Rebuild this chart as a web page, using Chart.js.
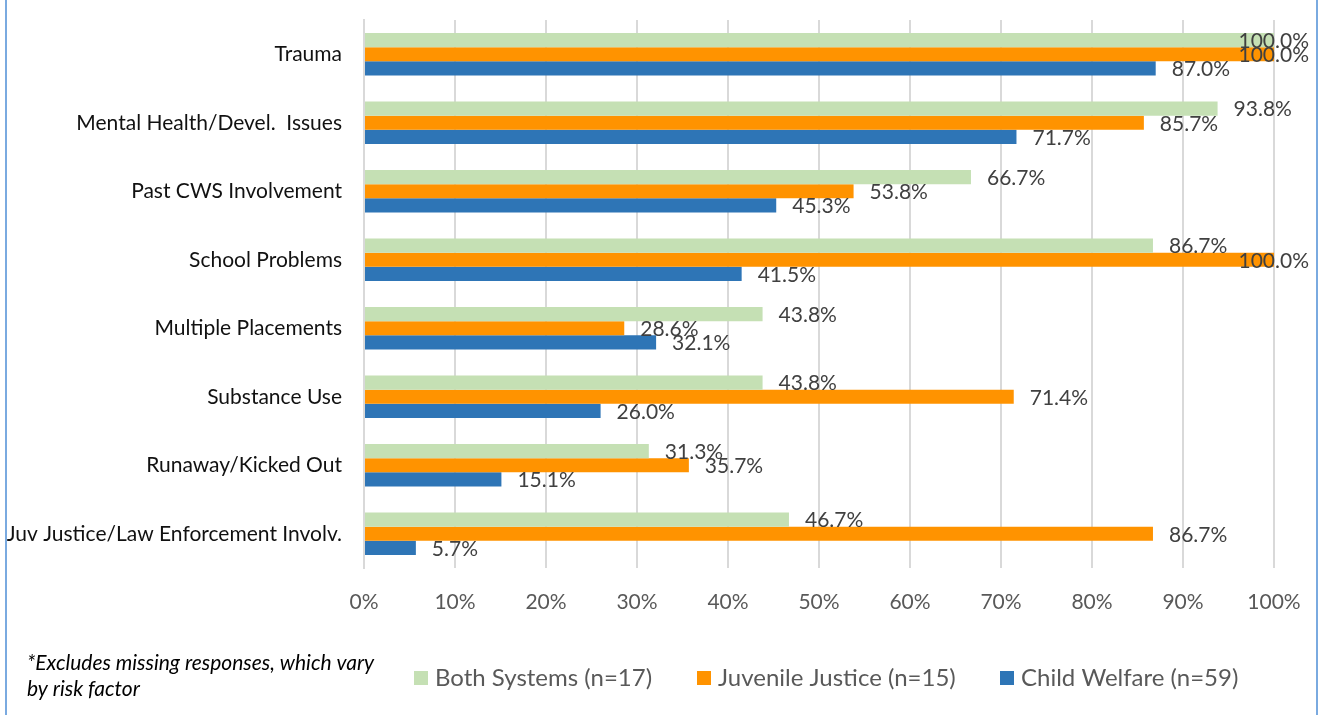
<!DOCTYPE html>
<html lang="en">
<head>
    <meta charset="UTF-8">
    <title>Risk factors by system</title>
    <script src="https://cdn.jsdelivr.net/npm/chart.js"></script>
    <style>
        html, body { margin: 0; padding: 0; background: #fff; }
        .wrap { position: relative; width: 1324px; height: 715px; }
    </style>
</head>
<body>
    <div class="wrap">
        <canvas id="chart"></canvas>
    </div>

    <script>
        const riskFactors = [
            'Trauma',
            'Mental Health/Devel.  Issues',
            'Past CWS Involvement',
            'School Problems',
            'Multiple Placements',
            'Substance Use',
            'Runaway/Kicked Out',
            'Juv Justice/Law Enforcement Involv.'
        ];
        const bothSystems     = [100.0, 93.8, 66.7, 86.7, 43.8, 43.8, 31.3, 46.7];
        const juvenileJustice = [100.0, 85.7, 53.8, 100.0, 28.6, 71.4, 35.7, 86.7];
        const childWelfare    = [87.0, 71.7, 45.3, 41.5, 32.1, 26.0, 15.1, 5.7];
        const seriesNames = ['Both Systems (n=17)', 'Juvenile Justice (n=15)', 'Child Welfare (n=59)'];
        const xTicks = [0, 10, 20, 30, 40, 50, 60, 70, 80, 90, 100];
        const footnote = ['*Excludes missing responses, which vary', 'by risk factor'];

        const FONT = 'Lato, "Open Sans", sans-serif';

        // side frame lines
        const framePlugin = {
            id: 'frame',
            beforeDraw(chart) {
                const c = chart.ctx;
                c.save();
                c.strokeStyle = '#7aaae0';
                c.lineWidth = 2;
                c.beginPath();
                c.moveTo(6, 0); c.lineTo(6, chart.height);
                c.moveTo(1317, 0); c.lineTo(1317, chart.height);
                c.stroke();
                c.restore();
            }
        };

        // value labels at bar ends, kept inside the frame
        const valueLabels = {
            id: 'valueLabels',
            afterDatasetsDraw(chart) {
                const c = chart.ctx;
                c.save();
                c.font = '21px ' + FONT;
                c.fillStyle = '#404040';
                c.textBaseline = 'middle';
                c.textAlign = 'left';
                chart.data.datasets.forEach((ds, i) => {
                    chart.getDatasetMeta(i).data.forEach((bar, j) => {
                        const txt = ds.data[j].toFixed(1) + '%';
                        const w = c.measureText(txt).width;
                        const x = Math.min(bar.x + 16, 1309 - w);
                        c.fillText(txt, x, bar.y + 1);
                    });
                });
                c.restore();
            }
        };

        // legend and footnote along the bottom
        const bottomText = {
            id: 'bottomText',
            afterDraw(chart) {
                const c = chart.ctx;
                c.save();
                c.font = 'italic 21px ' + FONT;
                c.fillStyle = '#000';
                c.textBaseline = 'middle';
                c.fillText(footnote[0], 27, 663);
                c.fillText(footnote[1], 27, 689);

                c.font = '24px ' + FONT;
                const starts = [414, 697, 1000];
                chart.data.datasets.forEach((ds, i) => {
                    c.fillStyle = ds.backgroundColor;
                    c.fillRect(starts[i], 671, 14, 14);
                    c.fillStyle = '#595959';
                    c.fillText(ds.label, starts[i] + 21, 678);
                });
                c.restore();
            }
        };

        new Chart(document.getElementById('chart'), {
            type: 'bar',
            data: {
                labels: riskFactors,
                datasets: [
                    { label: seriesNames[0], data: bothSystems, backgroundColor: '#c5e0b4' },
                    { label: seriesNames[1], data: juvenileJustice, backgroundColor: '#ff9300' },
                    { label: seriesNames[2], data: childWelfare, backgroundColor: '#2e75b6' }
                ]
            },
            options: {
                indexAxis: 'y',
                responsive: true,
                maintainAspectRatio: false,
                animation: false,
                categoryPercentage: 0.62,
                barPercentage: 1.0,
                layout: { padding: { top: 20, right: 50, bottom: 95, left: 0 } },
                plugins: {
                    legend: { display: false },
                    tooltip: { enabled: false }
                },
                scales: {
                    x: {
                        min: 0,
                        max: 100,
                        afterBuildTicks(scale) {
                            scale.ticks = xTicks.map(v => ({ value: v }));
                        },
                        afterFit(scale) { scale.height = 52; },
                        grid: { color: '#d9d9d9', lineWidth: 2, drawTicks: false },
                        border: { display: false },
                        ticks: {
                            padding: 22,
                            color: '#595959',
                            font: { family: FONT, size: 21 },
                            callback: v => v + '%'
                        }
                    },
                    y: {
                        afterFit(scale) {
                            scale.width = 364;
                            scale.paddingTop = 0;
                            scale.paddingBottom = 0;
                        },
                        grid: { display: false },
                        border: { color: '#d9d9d9', width: 2 },
                        ticks: {
                            padding: 14,
                            color: '#111',
                            font: { family: FONT, size: 21 }
                        }
                    }
                }
            },
            plugins: [framePlugin, valueLabels, bottomText]
        });
    </script>
</body>
</html>
